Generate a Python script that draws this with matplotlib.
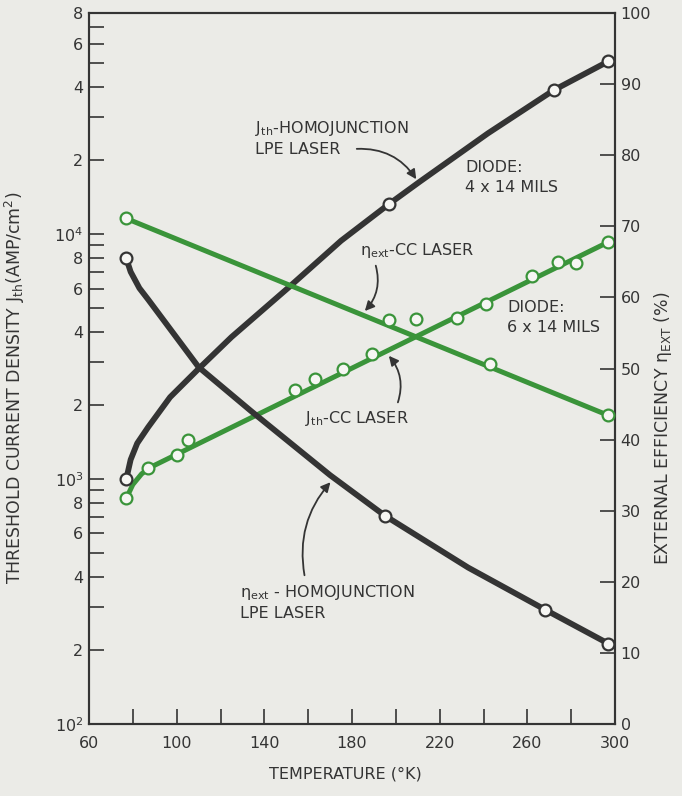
import numpy as np
import matplotlib.pyplot as plt
from matplotlib.ticker import FixedLocator, NullFormatter

plt.rcParams['font.family'] = ['DejaVu Sans']
plt.rcParams['mathtext.default'] = 'regular'

# temperature [K], threshold J_th [A/cm^2] (left, log), efficiency eta_ext [%] (right)
# J_th - homojunction LPE laser (black, rising)
homo_j_T = [77, 197, 272, 297]
homo_j = [1000, 13300, 38700, 50800]
homo_j_curve_T = [77, 79, 82, 87, 97, 110, 125, 151, 175, 197, 211, 242, 272, 297]
homo_j_curve = [1000, 1200, 1400, 1630, 2160, 2820, 3800, 6050, 9400, 13300, 16400, 25800, 38700, 50800]

# eta_ext - homojunction LPE laser (black, falling)
homo_eta_T = [77, 195, 268, 297]
homo_eta = [65.5, 29.3, 16.1, 11.3]
homo_eta_curve_T = [77, 79, 83, 87, 110, 134, 148, 170, 195, 233, 268, 297]
homo_eta_curve = [65.5, 63.6, 61.3, 59.7, 50.2, 44.0, 40.5, 35.0, 29.3, 22.0, 16.1, 11.3]

# J_th - CC laser (green, rising)
cc_j_T = [77, 87, 100, 105, 154, 163, 176, 189, 228, 241, 262, 274, 282, 297]
cc_j = [834, 1110, 1250, 1440, 2300, 2560, 2820, 3230, 4560, 5200, 6720, 7690, 7620, 9290]
cc_j_line_T = [77, 80, 84, 88, 297]
cc_j_line = [834, 950, 1050, 1117, 9290]

# eta_ext - CC laser (green, falling)
cc_eta_T = [77, 197, 209, 243, 297]
cc_eta = [71.1, 56.8, 56.9, 50.7, 43.4]
cc_eta_line_T = [77, 297]
cc_eta_line = [71.1, 43.4]

# axis ticks
x_major = [60, 100, 140, 180, 220, 260, 300]
x_minor = [80, 120, 160, 200, 240, 280]
j_ticks = [100, 200, 400, 600, 800, 1000, 2000, 4000, 6000, 8000, 10000, 20000, 40000, 60000, 80000]
j_labels = ['10$^2$', '2', '4', '6', '8', '10$^3$', '2', '4', '6', '8', '10$^4$', '2', '4', '6', '8']
j_minor = [300, 500, 700, 900, 3000, 5000, 7000, 9000, 30000, 50000, 70000]
eta_ticks = [0, 10, 20, 30, 40, 50, 60, 70, 80, 90, 100]

ink = '#343434'
green = '#3a943a'
bg = '#ebebe7'

W, H = 682, 796
fig = plt.figure(figsize=(W / 100, H / 100), dpi=100, facecolor=bg)
ax = fig.add_axes([89 / W, 1 - 724 / H, (615 - 89) / W, (724 - 13) / H])
ax.set_facecolor(bg)
ax2 = ax.twinx()

# lines
ax.plot(homo_j_curve_T, homo_j_curve, color=ink, lw=4.2, solid_capstyle='round',
        solid_joinstyle='round', zorder=3)
ax.plot(cc_j_line_T, cc_j_line, color=green, lw=3.6, solid_capstyle='round',
        solid_joinstyle='round', zorder=2)
ax2.plot(homo_eta_curve_T, homo_eta_curve, color=ink, lw=4.2, solid_capstyle='round',
         solid_joinstyle='round', zorder=3)
ax2.plot(cc_eta_line_T, cc_eta_line, color=green, lw=3.6, solid_capstyle='round', zorder=2)

# open circle markers
mk = dict(marker='o', ls='none', ms=8.5, mew=1.6, mfc='#f6f6f3', zorder=5)
ax.plot(homo_j_T, homo_j, mec=ink, **mk)
ax.plot(cc_j_T, cc_j, mec=green, **mk)
ax2.plot(homo_eta_T, homo_eta, mec=ink, **mk)
ax2.plot(cc_eta_T, cc_eta, mec=green, **mk)

# axes
ax.set_xlim(60, 300)
ax.set_yscale('log')
ax.set_ylim(100, 80000)
ax2.set_ylim(0, 100)

ax.set_xticks(x_major)
ax.xaxis.set_minor_locator(FixedLocator(x_minor))
ax.set_yticks(j_ticks)
ax.set_yticklabels(j_labels)
ax.yaxis.set_minor_locator(FixedLocator(j_minor))
ax.yaxis.set_minor_formatter(NullFormatter())
ax2.set_yticks(eta_ticks)

for a in (ax, ax2):
    for s in a.spines.values():
        s.set_color(ink)
        s.set_linewidth(1.5)

ax.tick_params(which='both', direction='in', length=11, width=1.2, color=ink,
               labelcolor=ink, labelsize=11.5, left=True, right=False, top=False)
ax.tick_params(axis='y', pad=4)
ax.tick_params(axis='x', pad=9)
ax2.tick_params(which='both', direction='in', length=11, width=1.2, color=ink,
                labelcolor=ink, labelsize=11.5, pad=4, right=True, left=False)

ax.set_xlabel('TEMPERATURE (°K)', fontsize=11.5, color=ink)
ax.xaxis.set_label_coords(0.487, -0.060)
ax.set_ylabel('THRESHOLD CURRENT DENSITY J$_{th}$(AMP/cm$^2$)', fontsize=12.5, color=ink)
ax.yaxis.set_label_coords(-0.118, 0.473)
ax2.set_ylabel('EXTERNAL EFFICIENCY $\\eta_{EXT}$ (%)', fontsize=12.5, color=ink,
               rotation=90)
ax2.yaxis.set_label_coords(1.070, 0.416)


def fp(x, y):
    return x / W, 1 - y / H


txt = dict(fontsize=11.5, color=ink, ha='left', va='center')
fig.text(*fp(255, 129), 'J$_{th}$-HOMOJUNCTION', **txt)
fig.text(*fp(255, 149), 'LPE LASER', **txt)
fig.text(*fp(465, 168), 'DIODE:', **txt)
fig.text(*fp(465, 187), '4 x 14 MILS', **txt)
fig.text(*fp(507, 307), 'DIODE:', **txt)
fig.text(*fp(507, 328), '6 x 14 MILS', **txt)
fig.text(*fp(360, 251), '$\\eta_{ext}$-CC LASER', **txt)
fig.text(*fp(305, 419), 'J$_{th}$-CC LASER', **txt)
fig.text(*fp(240, 592), '$\\eta_{ext}$ - HOMOJUNCTION', **txt)
fig.text(*fp(240, 613), 'LPE LASER', **txt)

arr = dict(arrowstyle='-|>', color=ink, lw=1.3, mutation_scale=14)
ax.annotate('', xy=(210, 16400), xycoords='data',
            xytext=fp(354, 149), textcoords='figure fraction',
            arrowprops=dict(connectionstyle='arc3,rad=-0.3', **arr))
ax2.annotate('', xy=(185, 57.8), xycoords='data',
             xytext=fp(375, 263), textcoords='figure fraction',
             arrowprops=dict(connectionstyle='arc3,rad=-0.3', **arr))
ax.annotate('', xy=(196, 3250), xycoords='data',
            xytext=fp(397, 405), textcoords='figure fraction',
            arrowprops=dict(connectionstyle='arc3,rad=0.3', **arr))
ax2.annotate('', xy=(171, 34.3), xycoords='data',
             xytext=fp(305, 578), textcoords='figure fraction',
             arrowprops=dict(connectionstyle='arc3,rad=-0.25', **arr))

fig.savefig('out.png', dpi=100, facecolor=bg)
